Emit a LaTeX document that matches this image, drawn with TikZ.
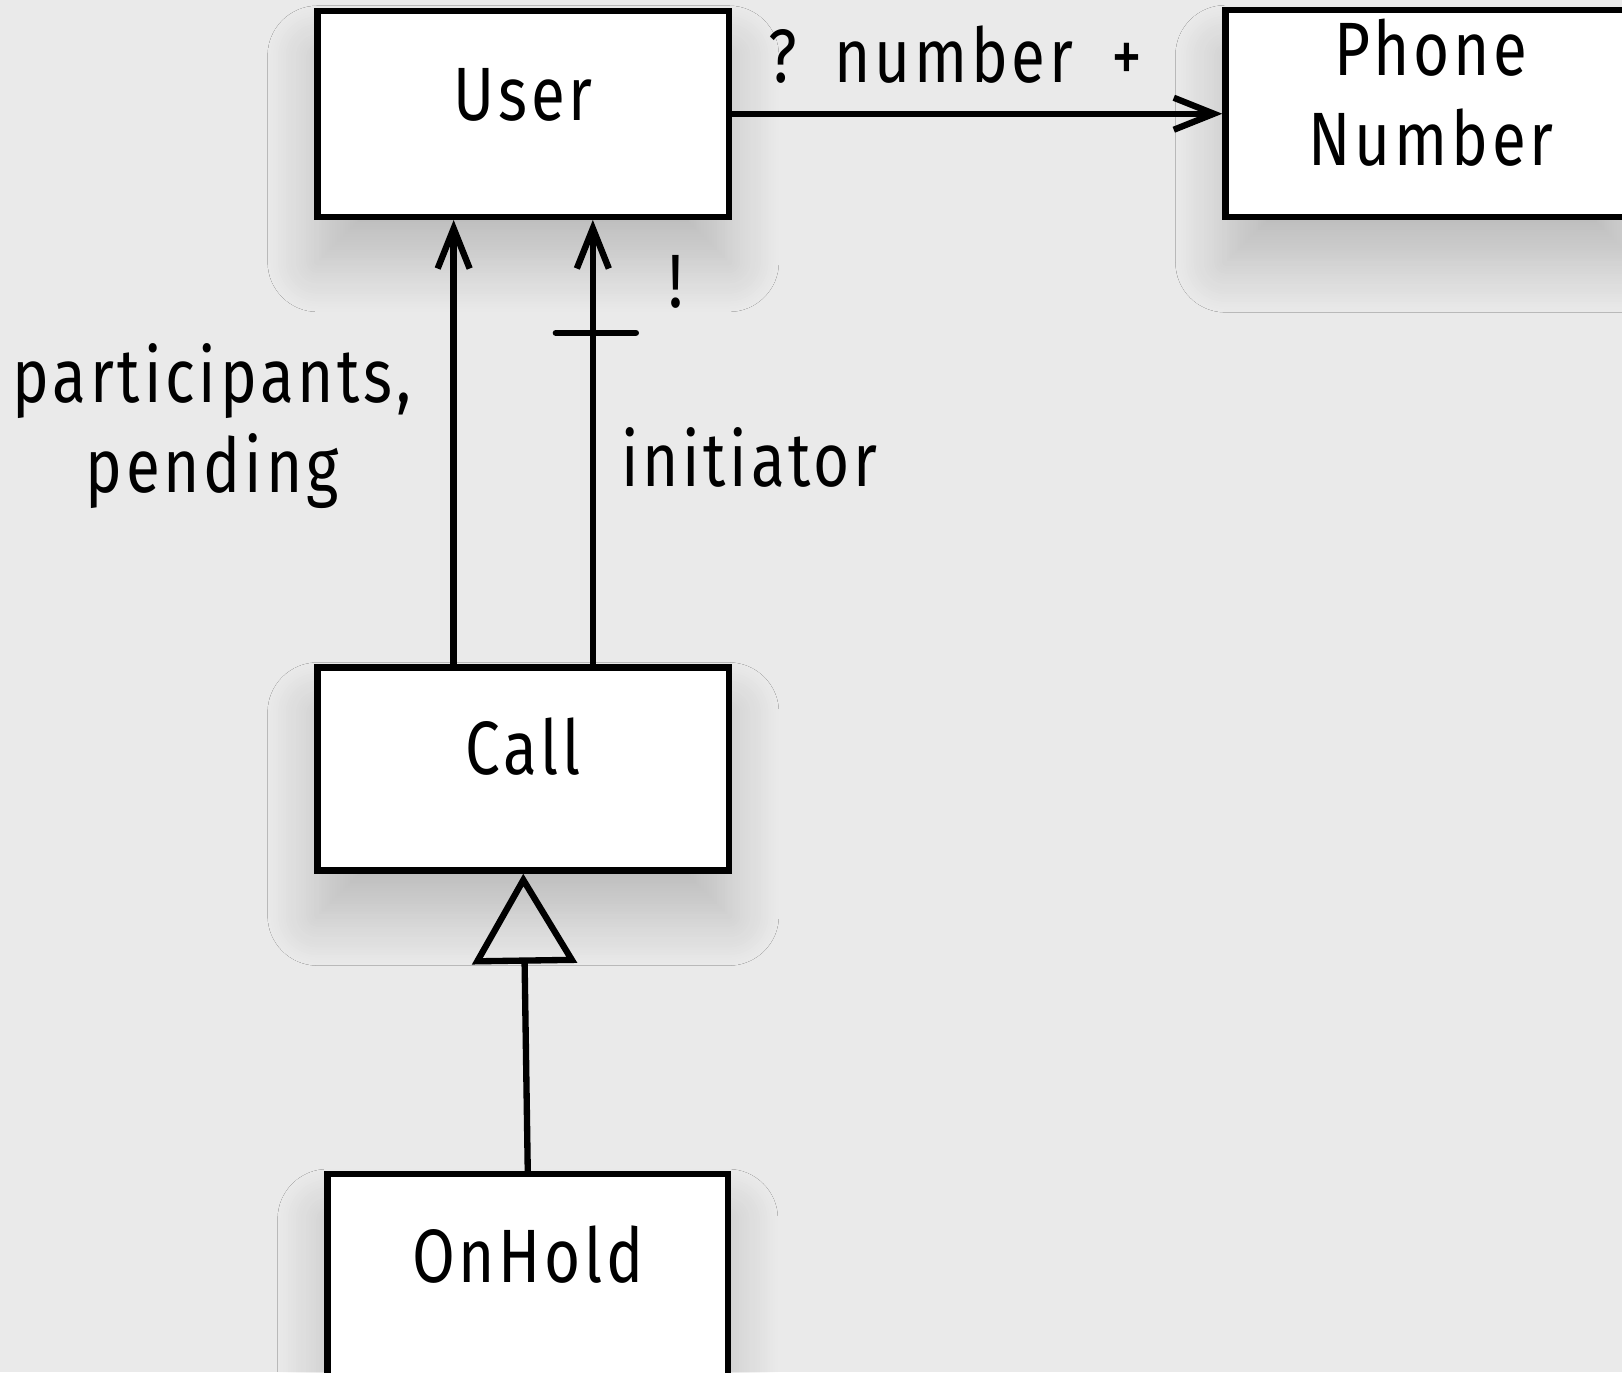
\documentclass[tikz,border=0pt]{standalone}
\usepackage{fontspec}
\setmainfont[FakeStretch=0.82, LetterSpace=5]{Fira Sans}
\usetikzlibrary{arrows.meta, positioning, calc, shadows.blur}
\definecolor{canvas}{HTML}{EAEAEA}
\tikzset{
  classbox/.style = {draw, line width=1.8pt, fill=white, minimum width=4.11cm,
                     inner sep=0pt, text height=1.10cm, text depth=0.96cm,
                     blur shadow={shadow xshift=0pt, shadow yshift=-0.45cm,
                                  shadow blur radius=0.5cm, shadow blur steps=20,
                                  shadow opacity=20}},
  assoc/.style    = {-{Straight Barb[length=4mm, width=3.2mm]}, line width=1.8pt},
  inherit/.style  = {-{Triangle[open, length=9mm, width=10.4mm]}, line width=1.8pt},
  lbl/.style      = {inner sep=0pt, align=center},
}

\begin{document}
\begin{tikzpicture}[x=0.01cm, y=-0.01cm, font=\fontsize{21.5}{25.5}\selectfont]
    % --- canvas -------------------------------------------------------------
    \fill[canvas] (0,0) rectangle (1622,1372);
    \useasboundingbox (0,0) rectangle (1622,1372);
    \clip (0,0) rectangle (1622,1372);

    % --- classes ------------------------------------------------------------
    \node[classbox] (user) at (523.25,113.75) {User};
    \node[classbox, right=4.90cm of user, align=center,
          text height=1.55cm, text depth=0.52cm] (phone) {Phone\\Number};
    \node[classbox, below=4.44cm of user, text height=1.07cm] (call) {Call};
    \node[classbox, below=2.97cm of call, xshift=0.045cm, text height=1.08cm,
          minimum width=4.0cm] (onhold) {OnHold};

    % --- associations -------------------------------------------------------
    \draw[assoc] (user) -- node[lbl, pos=0.455, anchor=base, yshift=0.31cm]
      (numlbl) {?\enspace number\enspace +} (phone);
    \draw[assoc] ($(call.north west)!1/3!(call.north east)$) --
      node[lbl, pos=0.536, anchor=east, xshift=-0.39cm] (partlbl)
      {participants,\\pending}
      ($(user.south west)!1/3!(user.south east)$);
    \draw[assoc] ($(call.north west)!2/3!(call.north east)$) --
      coordinate[pos=0.746] (tick)
      node[lbl, pos=0.401, anchor=base west, xshift=0.25cm] (initlbl) {initiator}
      node[lbl, pos=0.86, xshift=0.83cm] (banglbl) {!}
      ($(user.south west)!2/3!(user.south east)$);
    \draw[line width=1.8pt, line cap=round] ([xshift=-0.37cm]tick) -- ([xshift=0.43cm]tick);

    % --- generalisation -----------------------------------------------------
    \draw[inherit] (onhold.north) -- (call.south);
\end{tikzpicture}
\end{document}
